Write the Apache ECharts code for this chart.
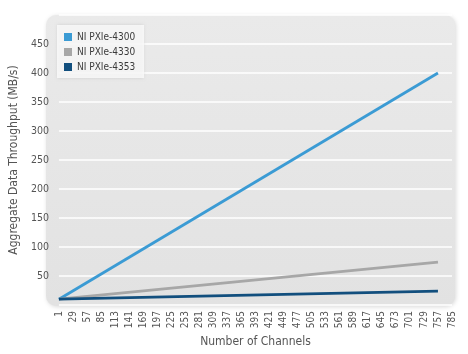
<!DOCTYPE html>
<html>
<head>
<meta charset="utf-8">
<script src="https://cdn.jsdelivr.net/npm/echarts@6/dist/echarts.min.js"></script>
<style>
  html, body { margin: 0; padding: 0; background: #fff; }
  #chart { width: 468px; height: 354px; }
</style>
</head>
<body>
<div id="chart"></div>
<script>
// channel counts along the x axis
const channels = ['1', '29', '57', '85', '113', '141', '169', '197', '225', '253', '281', '309',
  '337', '365', '393', '421', '449', '477', '505', '533', '561', '589', '617', '645', '673',
  '701', '729', '757', '785'];
// throughput (MB/s), straight lines read at both ends
const pxie4300 = [['1', 10], ['757', 400]];
const pxie4330 = [['1', 10], ['757', 74]];
const pxie4353 = [['1', 10], ['757', 24]];
const yTicks = [50, 100, 150, 200, 250, 300, 350, 400, 450];

const font = '"DejaVu Sans Condensed", "Liberation Sans Narrow", "Liberation Sans", sans-serif';

var chart = echarts.init(document.getElementById('chart'));
var option = {
  animation: false,
  textStyle: { fontFamily: font },
  graphic: [
    {
      type: 'rect',
      z: -10,
      shape: { x: 46, y: 15, width: 409, height: 291, r: 10 },
      style: {
        fill: new echarts.graphic.LinearGradient(0, 0, 0, 1, [
          { offset: 0, color: '#eaeaea' },
          { offset: 1, color: '#e2e2e2' }
        ]),
        shadowBlur: 4,
        shadowColor: 'rgba(0,0,0,0.15)',
        shadowOffsetX: 1,
        shadowOffsetY: 1
      }
    }
  ],
  grid: { left: 51, right: 16, top: 15, bottom: 49 },
  legend: {
    orient: 'vertical',
    left: 57,
    top: 25,
    padding: [7, 9, 6, 7],
    itemGap: 5,
    itemWidth: 8,
    itemHeight: 8,
    icon: 'rect',
    backgroundColor: 'rgba(250,250,250,0.85)',
    shadowBlur: 3,
    shadowColor: 'rgba(0,0,0,0.15)',
    textStyle: { fontFamily: font, fontSize: 10, color: '#3a3a3a' },
    data: ['NI PXIe-4300', 'NI PXIe-4330', 'NI PXIe-4353']
  },
  xAxis: {
    type: 'category',
    data: channels,
    boundaryGap: false,
    name: 'Number of Channels',
    nameLocation: 'middle',
    nameGap: 30,
    nameTextStyle: { fontFamily: font, fontSize: 12, color: '#555' },
    axisLine: { show: false },
    axisTick: { show: false },
    axisLabel: { rotate: 90, interval: 0, margin: 6, fontSize: 10, color: '#555', fontFamily: font },
    splitLine: { show: false }
  },
  yAxis: {
    type: 'value',
    min: 0,
    max: 500,
    interval: 50,
    name: 'Aggregate Data Throughput (MB/s)',
    nameLocation: 'middle',
    nameGap: 31,
    nameTextStyle: { fontFamily: font, fontSize: 12, color: '#555' },
    axisLine: { show: false },
    axisTick: { show: false },
    axisLabel: {
      margin: 10,
      fontSize: 10.5,
      color: '#555',
      fontFamily: font,
      formatter: function (v) { return yTicks.indexOf(v) >= 0 ? String(v) : ''; }
    },
    splitLine: { show: true, lineStyle: { color: '#ffffff', width: 1.5 } }
  },
  series: [
    {
      name: 'NI PXIe-4300', type: 'line', data: pxie4300, symbol: 'none',
      itemStyle: { color: '#3b9bd4' }, lineStyle: { width: 2.8, color: '#3b9bd4' }
    },
    {
      name: 'NI PXIe-4330', type: 'line', data: pxie4330, symbol: 'none',
      itemStyle: { color: '#a7a7a7' }, lineStyle: { width: 2.8, color: '#a7a7a7' }
    },
    {
      name: 'NI PXIe-4353', type: 'line', data: pxie4353, symbol: 'none',
      itemStyle: { color: '#124f7e' }, lineStyle: { width: 2.8, color: '#124f7e' }
    }
  ]
};
chart.setOption(option);
</script>
</body>
</html>
